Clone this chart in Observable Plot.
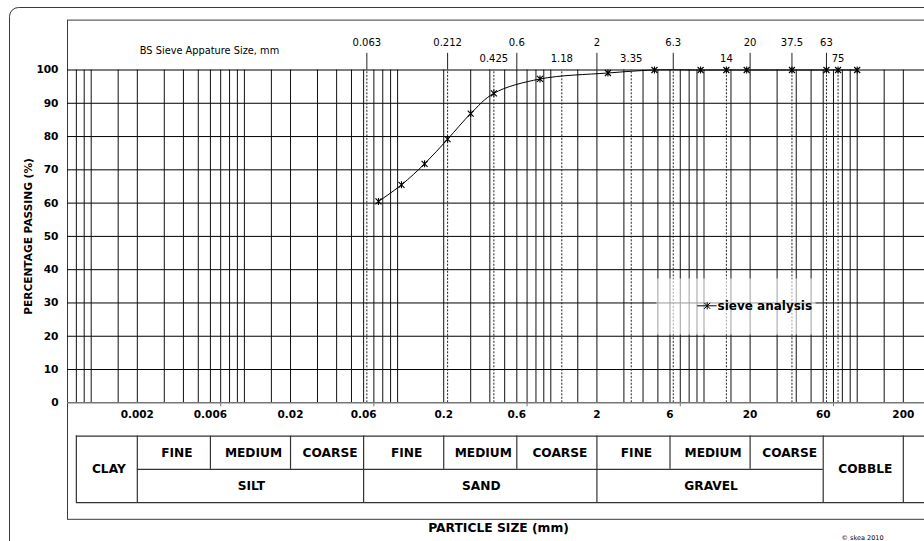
<!DOCTYPE html>
<html><head><meta charset="utf-8">
<script src="https://cdn.jsdelivr.net/npm/d3@7"></script>
<script src="https://cdn.jsdelivr.net/npm/@observablehq/plot@0.6"></script>
<style>html,body{margin:0;padding:0;background:#fff;overflow:hidden}</style>
</head><body><div id="chart"></div>
<script>
// ---- data ----
const sieveSizes = [0.075, 0.106, 0.15, 0.212, 0.3, 0.425, 0.85, 2.36, 4.75, 9.5, 14, 19, 37.5, 63, 75, 100];
const percentPassing = [60.5, 65.5, 71.8, 79.2, 86.9, 93.0, 97.3, 99.1, 100, 100, 100, 100, 100, 100, 100, 100];
const gridSizes = [0.0008, 0.0009, 0.001, 0.0015, 0.002, 0.003, 0.004, 0.005, 0.006, 0.007, 0.008, 0.009,
  0.01, 0.015, 0.02, 0.03, 0.04, 0.05, 0.06, 0.07, 0.08, 0.09,
  0.1, 0.2, 0.3, 0.4, 0.5, 0.6, 0.7, 0.8, 0.9,
  1, 1.5, 2, 3, 4, 5, 6, 7, 8, 9,
  10, 15, 20, 30, 40, 50, 60, 70, 80, 90,
  100, 150, 200];
const yTicks = [0, 10, 20, 30, 40, 50, 60, 70, 80, 90, 100];
const xTickLabels = [0.002, 0.006, 0.02, 0.06, 0.2, 0.6, 2, 6, 20, 60, 200];
const majorTicks = [0.007, 0.07, 0.7, 7, 70];
const bsSievesUpper = [0.063, 0.212, 0.6, 2, 6.3, 20, 37.5, 63];
const bsSievesLower = [0.425, 1.18, 3.35, 14, 75];
const bsSievesDashed = [0.063, 0.212, 0.425, 1.18, 3.35, 6.3, 14, 37.5, 63, 75];
const subBounds = [0.002, 0.006, 0.02, 0.06, 0.2, 0.6, 2, 6, 20, 60];
const subLabels = ["FINE", "MEDIUM", "COARSE", "FINE", "MEDIUM", "COARSE", "FINE", "MEDIUM", "COARSE"];
const mainBounds = [0.002, 0.06, 2, 60];
const mainLabels = ["SILT", "SAND", "GRAVEL"];
const spanBounds = [[0.0008, 0.002], [60, 200]];
const spanLabels = ["CLAY", "COBBLE"];
const tableFullLines = [0.0008, 0.002, 0.06, 2, 60, 200];
const tableHalfLines = [0.006, 0.02, 0.2, 0.6, 6, 20];
const tableRows = {top: -10, mid: -20, bottom: -30};

const data = sieveSizes.map((s, i) => ({size: s, pct: percentPassing[i]}));

// Excel-like star marker: X plus vertical bar
const star = {draw(ctx) {
  const r = 3;
  ctx.moveTo(-r, -r); ctx.lineTo(r, r);
  ctx.moveTo(-r, r); ctx.lineTo(r, -r);
  ctx.moveTo(0, -r - 0.5); ctx.lineTo(0, r + 0.5);
}};
const legendStar = {draw(ctx) {
  star.draw(ctx);
  ctx.moveTo(-10, 0); ctx.lineTo(9.5, 0);
}};

const bold = {fontWeight: "bold"};
const gm = (a, b) => Math.sqrt(a * b);

const chart = Plot.plot({
  width: 924, height: 541,
  marginLeft: 67, marginRight: 0, marginTop: 19.6, marginBottom: 22.2,
  x: {type: "log", domain: [0.001, 100], range: [90.7, 856.7], axis: null},
  y: {domain: [0, 100], range: [402.3, 69.5], axis: null},
  style: {fontFamily: "'DejaVu Sans', Verdana, sans-serif", background: "white", color: "black"},
  marks: [
    Plot.frame({stroke: "#3a3a3a", rx: 9, insetLeft: -58, insetTop: -12.6, insetRight: -30, insetBottom: -40}),
    Plot.frame({stroke: "#3a3a3a", insetRight: -5}),
    // grid
    Plot.ruleY(yTicks.filter(d => d > 0), {stroke: "#000", strokeWidth: 1}),
    Plot.ruleX(gridSizes, {y1: 0, y2: 100, stroke: "#111", strokeWidth: 1}),
    Plot.ruleX(bsSievesDashed, {y1: 0, y2: 100, stroke: "#222", strokeDasharray: "2,1.5"}),
    Plot.ruleX(bsSievesUpper, {y1: 100, y2: 105, stroke: "#222"}),
    Plot.ruleY([0], {stroke: "#777", strokeWidth: 1.5}),
    Plot.ruleX(majorTicks, {y1: 0, y2: -1.2, stroke: "#777"}),
    // axis labels
    Plot.text(yTicks, {y: d => d, text: d => String(d), frameAnchor: "left", textAnchor: "end", lineAnchor: "middle", dx: -9, fontSize: 10.6, ...bold}),
    Plot.text(xTickLabels, {x: d => d, y: 0, dy: 12, text: d => String(d), textAnchor: "middle", lineAnchor: "middle", fontSize: 10.5, ...bold}),
    Plot.text(bsSievesUpper, {x: d => d, y: 100, dy: -27.5, text: d => String(d), textAnchor: "middle", lineAnchor: "middle", fontSize: 10}),
    Plot.text(bsSievesLower, {x: d => d, y: 100, dy: -11, text: d => String(d), textAnchor: "middle", lineAnchor: "middle", fontSize: 10}),
    Plot.text(["BS Sieve Appature Size, mm"], {text: d => d, frameAnchor: "top-left", dx: 142, dy: 31, textAnchor: "middle", lineAnchor: "middle", fontSize: 9.8}),
    Plot.text(["PERCENTAGE PASSING (%)"], {text: d => d, frameAnchor: "left", y: [50], dx: -39, rotate: -90, textAnchor: "middle", lineAnchor: "middle", fontSize: 10.6, ...bold}),
    Plot.text(["PARTICLE SIZE (mm)"], {text: d => d, frameAnchor: "bottom", dx: 2.5, dy: 8.5, textAnchor: "middle", lineAnchor: "middle", fontSize: 12.3, ...bold}),
    Plot.text(["© skea 2010"], {text: d => d, frameAnchor: "bottom-right", dx: -62, dy: 18.7, textAnchor: "middle", lineAnchor: "middle", fontSize: 6.5}),
    // classification table
    Plot.ruleY([tableRows.top, tableRows.bottom], {x1: 0.0008, x2: 5000, stroke: "#333", strokeWidth: 1.2}),
    Plot.ruleY([tableRows.mid], {x1: 0.002, x2: 60, stroke: "#333", strokeWidth: 1.2}),
    Plot.ruleX(tableFullLines, {y1: tableRows.top, y2: tableRows.bottom, stroke: "#333", strokeWidth: 1.2}),
    Plot.ruleX(tableHalfLines, {y1: tableRows.top, y2: tableRows.mid, stroke: "#333", strokeWidth: 1.2}),
    Plot.text(subLabels, {text: d => d, x: (d, i) => gm(subBounds[i], subBounds[i + 1]), y: -15, dx: 3, textAnchor: "middle", lineAnchor: "middle", fontSize: 12.2, ...bold}),
    Plot.text(mainLabels, {text: d => d, x: (d, i) => gm(mainBounds[i], mainBounds[i + 1]), y: -25, dx: 1, textAnchor: "middle", lineAnchor: "middle", fontSize: 12.2, ...bold}),
    Plot.text(spanLabels, {text: d => d, x: (d, i) => gm(spanBounds[i][0], spanBounds[i][1]), y: -20, dx: 2, textAnchor: "middle", lineAnchor: "middle", fontSize: 12.2, ...bold}),
    // legend
    Plot.frame({fill: "white", fillOpacity: 0.6, stroke: "none", insetLeft: 589, insetRight: 109, insetTop: 258.4, insetBottom: 184.8}),
    Plot.dot([0], {frameAnchor: "top-left", dx: 639.7, dy: 285.7, symbol: legendStar, fill: "none", stroke: "black", strokeWidth: 1}),
    Plot.text(["sieve analysis"], {text: d => d, frameAnchor: "top-left", dx: 650, dy: 286, textAnchor: "start", lineAnchor: "middle", fontSize: 12, ...bold}),
    // data
    Plot.line(data, {x: "size", y: "pct", curve: "catmull-rom", stroke: "black", strokeWidth: 1}),
    Plot.dot(data, {x: "size", y: "pct", symbol: star, fill: "none", stroke: "black", strokeWidth: 1.1})
  ]
});
document.getElementById("chart").appendChild(chart);
</script>
</body></html>
